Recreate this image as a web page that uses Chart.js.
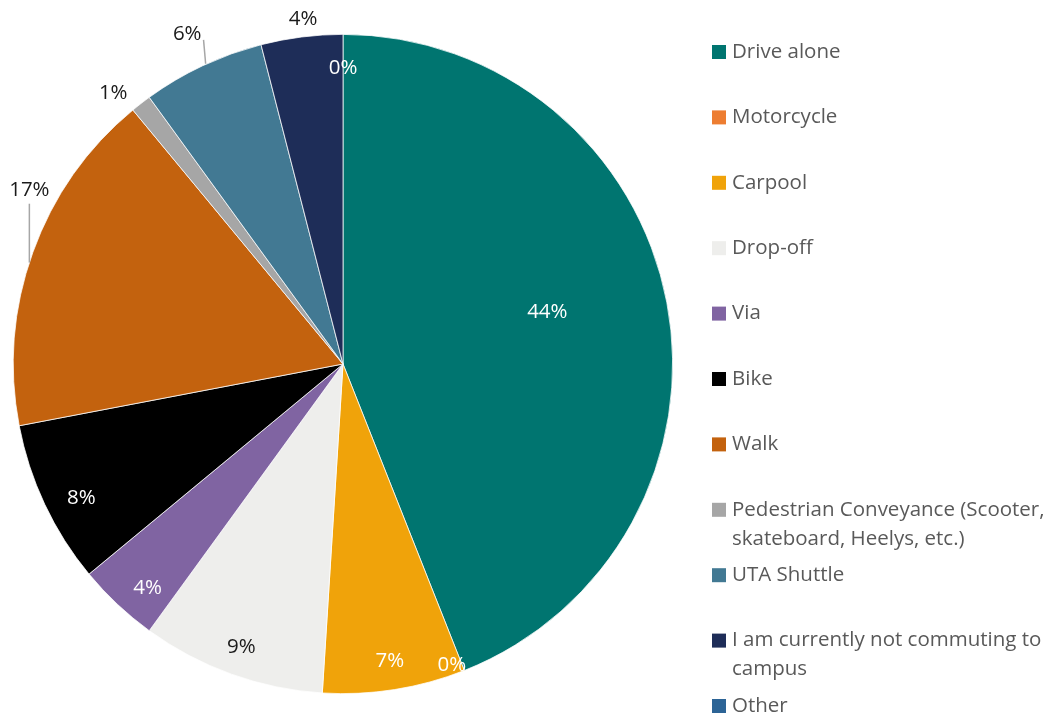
<!DOCTYPE html>
<html>
<head>
<meta charset="utf-8">
<script src="https://cdn.jsdelivr.net/npm/chart.js@4.4.1/dist/chart.umd.min.js"></script>
<style>
  html, body { margin: 0; padding: 0; background: #ffffff; }
  #wrap { width: 1055px; height: 719px; position: relative; }
</style>
</head>
<body>
<div id="wrap"><canvas id="commute"></canvas></div>
<script>
// commute mode shares (percent)
var modes = [
  "Drive alone",
  "Motorcycle",
  "Carpool",
  "Drop-off",
  "Via",
  "Bike",
  "Walk",
  "Pedestrian Conveyance (Scooter, skateboard, Heelys, etc.)",
  "UTA Shuttle",
  "I am currently not commuting to campus",
  "Other"
];
var shares = [44, 0, 7, 9, 4, 8, 17, 1, 6, 4, 0];

var sliceColors = [
  "#007570", "#ED7D31", "#F0A30A", "#EEEEEC", "#8064A2", "#000000",
  "#C3620E", "#A6A6A6", "#427993", "#1E2D58", "#2C6496"
];

// label placement: fraction of radius, angle nudge (deg), text colour, leader line
var labelRadius = [0.64, 0.97, 0.91, 0.91, 0.9, 0.89, 1.09, 1.08, 1.11, 1.055, 0.9];
var labelNudge = [-3.6, 1.7, 0, 0, -2, -1.7, 9.4, -2.4, 0, 0.6, 0];
var labelDark = [false, false, false, true, false, false, true, true, true, true, false];
var labelLeader = [false, false, false, false, false, false, "down", false, "arc", false, false];

var FONT = "'Open Sans', 'Noto Sans', sans-serif";

var sliceLabels = {
  id: "sliceLabels",
  afterDatasetsDraw(chart) {
    var ctx = chart.ctx;
    var meta = chart.getDatasetMeta(0);
    ctx.save();
    ctx.font = "20.5px " + FONT;
    ctx.textAlign = "center";
    ctx.textBaseline = "middle";
    meta.data.forEach((arc, i) => {
      var p = arc.getProps(["x", "y", "startAngle", "endAngle", "outerRadius"], true);
      var mid = (p.startAngle + p.endAngle) / 2 + labelNudge[i] * Math.PI / 180;
      var r = p.outerRadius * labelRadius[i];
      var lx = p.x + Math.cos(mid) * r;
      var ly = p.y + Math.sin(mid) * r;
      var text = shares[i] + "%";

      if (labelLeader[i] === "down") {
        // straight down from the label to the rim
        var ry = p.y - Math.sqrt(p.outerRadius * p.outerRadius - (lx - p.x) * (lx - p.x));
        ctx.strokeStyle = "#A6A6A6";
        ctx.lineWidth = 1.5;
        ctx.beginPath();
        ctx.moveTo(lx, ly + 15);
        ctx.lineTo(lx, ry);
        ctx.stroke();
      } else if (labelLeader[i] === "arc") {
        var realMid = (p.startAngle + p.endAngle) / 2;
        var ex = p.x + Math.cos(realMid) * p.outerRadius;
        var ey = p.y + Math.sin(realMid) * p.outerRadius;
        var hw = ctx.measureText(text).width / 2;
        ctx.strokeStyle = "#A6A6A6";
        ctx.lineWidth = 1.5;
        ctx.beginPath();
        ctx.moveTo(lx + hw + 2, ly + 7);
        ctx.lineTo(ex + 3, ey - 2);
        ctx.stroke();
      }

      ctx.fillStyle = labelDark[i] ? "#1a1a1a" : "#ffffff";
      ctx.fillText(text, lx, ly + 1);
    });
    ctx.restore();
  }
};

// legend on the right, wrapping long entries
var sideLegend = {
  id: "sideLegend",
  afterDraw(chart) {
    var ctx = chart.ctx;
    ctx.save();
    ctx.font = "20.5px " + FONT;
    ctx.textBaseline = "middle";
    ctx.textAlign = "left";
    var x0 = 712, tx = 732, maxW = 322;
    modes.forEach((name, i) => {
      var y = 51 + i * 65.4;
      ctx.fillStyle = sliceColors[i];
      ctx.fillRect(x0, y - 6, 14, 14);

      var words = name.split(" ");
      var lines = [];
      var cur = "";
      words.forEach((w) => {
        var test = cur ? cur + " " + w : w;
        if (ctx.measureText(test).width > maxW && cur) {
          lines.push(cur);
          cur = w;
        } else {
          cur = test;
        }
      });
      lines.push(cur);

      ctx.fillStyle = "#595959";
      lines.forEach((ln, k) => {
        ctx.fillText(ln, tx, y + 1 + k * 29);
      });
    });
    ctx.restore();
  }
};

new Chart(document.getElementById("commute"), {
  type: "pie",
  data: {
    labels: modes,
    datasets: [
      {
        data: shares,
        backgroundColor: sliceColors,
        borderColor: "#ffffff",
        borderWidth: shares.map((v) => (v === 0 ? 0 : 0.75))
      }
    ]
  },
  options: {
    responsive: true,
    maintainAspectRatio: false,
    animation: false,
    layout: {
      padding: { left: 13, right: 382, top: 34, bottom: 25 }
    },
    plugins: {
      legend: { display: false },
      tooltip: { enabled: false }
    }
  },
  plugins: [sliceLabels, sideLegend]
});
</script>
</body>
</html>
